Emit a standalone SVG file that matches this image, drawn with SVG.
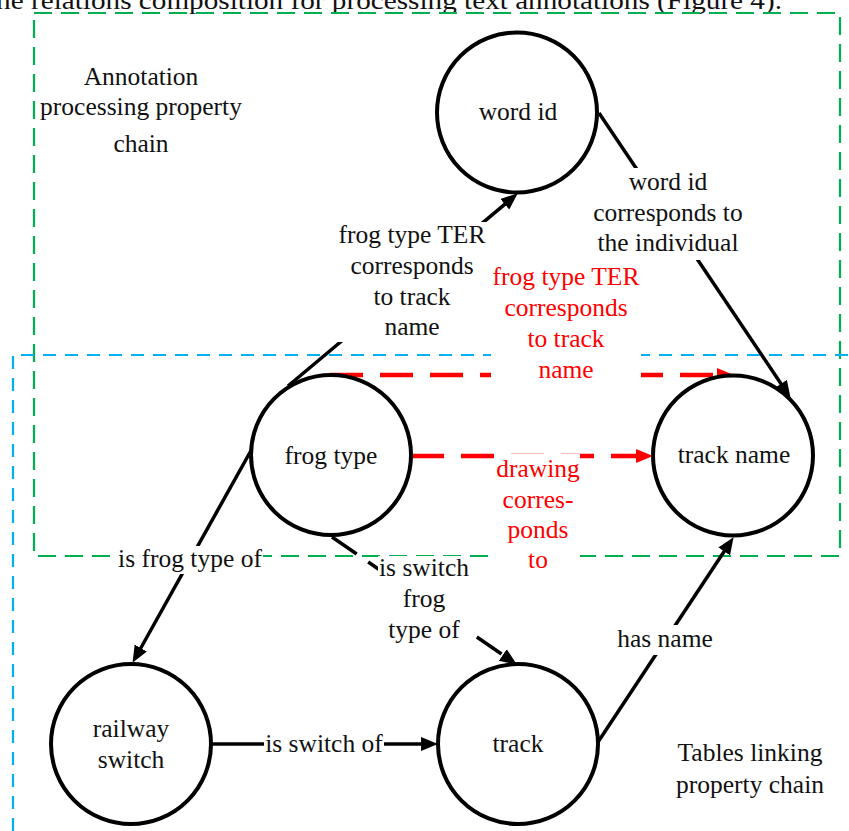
<svg xmlns="http://www.w3.org/2000/svg" width="849" height="831" viewBox="0 0 849 831">
<style>
  text { font-family: "Liberation Serif", "DejaVu Serif", serif; font-size: 25.5px; fill: #111; text-anchor: middle; }
  .red { fill: #ff0000; }
  .node { fill: #ffffff; stroke: #000; stroke-width: 4; }
  .edge { stroke: #000; stroke-width: 3.5; fill: none; }
  .dash { stroke-dasharray: 30 14; }
  .redge { stroke: #ff0000; stroke-width: 4.5; fill: none; stroke-dasharray: 33 17; }
  .bg { fill: #ffffff; stroke: none; }
  .green { stroke: #00b050; stroke-width: 2.2; fill: none; stroke-dasharray: 18 9; }
  .blue { stroke: #00b0f0; stroke-width: 2.2; fill: none; stroke-dasharray: 13 9; }
</style>
<defs>
  <marker id="ab" markerUnits="userSpaceOnUse" markerWidth="17" markerHeight="15" refX="8" refY="7" orient="auto">
    <path d="M0,0 L17,7 L0,14 z" fill="#000"/>
  </marker>
  <marker id="ar" markerUnits="userSpaceOnUse" markerWidth="17" markerHeight="15" refX="8" refY="7" orient="auto">
    <path d="M0,0 L17,7 L0,14 z" fill="#ff0000"/>
  </marker>
</defs>
<rect width="849" height="831" fill="#ffffff"/>
<text x="-12" y="9" style="text-anchor:start" textLength="794" lengthAdjust="spacingAndGlyphs">the relations composition for processing text annotations (Figure 4).</text>

<g id="containers">
  <rect class="green" x="34" y="13" width="806" height="543"/>
  <path class="blue" d="M13,831 V355 H849"/>
</g>

<g id="connectors">
  <line class="edge" x1="288" y1="386" x2="510.9" y2="199.1" marker-end="url(#ab)"/>
  <line class="edge" x1="599" y1="113" x2="785.5" y2="390.4" marker-end="url(#ab)"/>
  <line class="redge" x1="330" y1="375" x2="725" y2="375" marker-end="url(#ar)"/>
  <line class="redge" x1="411" y1="456" x2="644" y2="456" marker-end="url(#ar)"/>
  <line class="edge" x1="253" y1="447" x2="136.9" y2="655" marker-end="url(#ab)"/>
  <line class="edge dash" x1="332" y1="537" x2="509.4" y2="659.5" marker-end="url(#ab)"/>
  <line class="edge" x1="212" y1="744" x2="429" y2="744" marker-end="url(#ab)"/>
  <line class="edge" x1="598" y1="742" x2="728.6" y2="544.7" marker-end="url(#ab)"/>
</g>

<g id="edge-labels">
  <rect class="bg" x="334" y="222" width="152" height="120"/>
  <text x="412" y="243">frog type TER</text>
  <text x="412" y="274">corresponds</text>
  <text x="412" y="305">to track</text>
  <text x="412" y="335">name</text>

  <rect class="bg" x="491" y="262" width="150" height="122"/>
  <text class="red" x="566" y="285">frog type TER</text>
  <text class="red" x="566" y="316">corresponds</text>
  <text class="red" x="566" y="347">to track</text>
  <text class="red" x="566" y="378">name</text>

  <rect class="bg" x="494" y="454" width="86" height="121"/>
  <text class="red" x="538" y="477">drawing</text>
  <text class="red" x="538" y="508">corres-</text>
  <text class="red" x="538" y="538">ponds</text>
  <text class="red" x="538" y="568">to</text>

  <rect class="bg" x="590" y="168" width="156" height="92"/>
  <text x="668" y="190">word id</text>
  <text x="668" y="221">corresponds to</text>
  <text x="668" y="251">the individual</text>

  <rect class="bg" x="115" y="546" width="148" height="28"/>
  <text x="190" y="567">is frog type of</text>

  <rect class="bg" x="378" y="556" width="92" height="88"/>
  <text x="424" y="576">is switch</text>
  <text x="424" y="607">frog</text>
  <text x="424" y="638">type of</text>

  <rect class="bg" x="616" y="625" width="99" height="30"/>
  <text x="665" y="647">has name</text>

  <rect class="bg" x="264" y="732" width="120" height="26"/>
  <text x="324" y="752">is switch of</text>
</g>

<g id="node-word-id">
  <circle class="node" cx="517" cy="112.5" r="80"/>
  <text x="518" y="120">word id</text>
</g>
<g id="node-frog-type">
  <circle class="node" cx="331" cy="455" r="80"/>
  <text x="331" y="464">frog type</text>
</g>
<g id="node-track-name">
  <circle class="node" cx="733" cy="455.5" r="80"/>
  <text x="734" y="463">track name</text>
</g>
<g id="node-railway-switch">
  <circle class="node" cx="131" cy="744" r="80"/>
  <text x="131" y="737">railway</text>
  <text x="131" y="768">switch</text>
</g>
<g id="node-track">
  <circle class="node" cx="518" cy="744" r="80"/>
  <text x="518" y="752">track</text>
</g>

<g id="annotations">
  <text x="141" y="85">Annotation</text>
  <text x="141" y="115">processing property</text>
  <text x="141" y="152">chain</text>
  <text x="750" y="761">Tables linking</text>
  <text x="750" y="793">property chain</text>
</g>
</svg>
